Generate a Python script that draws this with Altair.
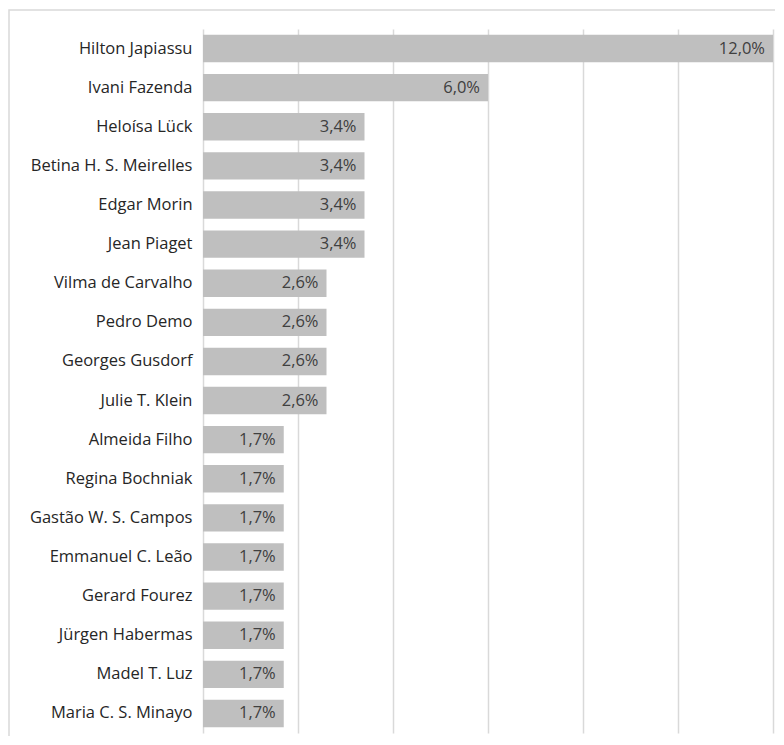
import altair as alt
import pandas as pd

authors = ["Hilton Japiassu", "Ivani Fazenda", "Heloísa Lück", "Betina H. S. Meirelles",
           "Edgar Morin", "Jean Piaget", "Vilma de Carvalho", "Pedro Demo", "Georges Gusdorf",
           "Julie T. Klein", "Almeida Filho", "Regina Bochniak", "Gastão W. S. Campos",
           "Emmanuel C. Leão", "Gerard Fourez", "Jürgen Habermas", "Madel T. Luz",
           "Maria C. S. Minayo"]
values = [12.0, 6.0, 3.4, 3.4, 3.4, 3.4, 2.6, 2.6, 2.6, 2.6,
          1.7, 1.7, 1.7, 1.7, 1.7, 1.7, 1.7, 1.7]
grid_values = [0, 2, 4, 6, 8, 10, 12]

df = pd.DataFrame({
    "author": authors,
    "value": values,
    "label": [f"{v:.1f}".replace(".", ",") + "%" for v in values],
})

FONT = "Open Sans"
FS = 16.5
y_enc = alt.Y("author:N", sort=authors, title=None,
              scale=alt.Scale(paddingInner=0.3, paddingOuter=0.15),
              axis=alt.Axis(domain=False, ticks=False, labelFont=FONT, labelFontSize=FS,
                            labelColor="#262626", labelPadding=11, labelLimit=250))
x_scale = alt.Scale(domain=[0, 12], nice=False)

frame = alt.Chart(pd.DataFrame({"f": [0]})).mark_rect(
    fill=None, fillOpacity=0, stroke="#d9d9d9", strokeWidth=1.5
).encode(
    x=alt.value(-194), x2=alt.value(620), y=alt.value(-19), y2=alt.value(760)
)

bars = alt.Chart(df).mark_bar(color="#bfbfbf").encode(
    x=alt.X("value:Q", scale=x_scale, title=None,
            axis=alt.Axis(values=grid_values, labels=False, ticks=False, domain=False,
                          grid=True, gridColor="#d9d9d9", gridWidth=1.5)),
    y=y_enc,
)

text = alt.Chart(df).mark_text(align="right", dx=-8, font=FONT, fontSize=FS,
                               color="#404040").encode(
    x=alt.X("value:Q", scale=x_scale),
    y=alt.Y("author:N", sort=authors),
    text="label:N",
)

chart = alt.layer(frame, bars, text).properties(
    width=570, height=704,
    autosize=alt.AutoSizeParams(type="none"),
    padding={"left": 195, "top": 21, "right": 2, "bottom": 3},
).configure_view(stroke=None)

chart.save("out.html", embed_options={"renderer": "svg", "actions": False})
